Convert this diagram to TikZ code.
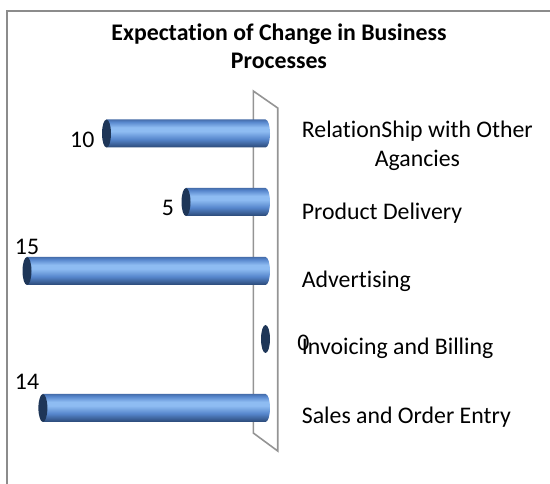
\documentclass[tikz,border=0pt]{standalone}
\usepackage{fontspec}
\setmainfont[Ligatures={NoCommon,NoRare},Contextuals=NoAlternate]{Carlito}
\usetikzlibrary{%
  positioning,%
  calc%
}
\definecolor{bartop}{RGB}{70,110,172}
\definecolor{barbody}{RGB}{86,134,204}
\definecolor{barlight}{RGB}{142,188,242}
\definecolor{bardark}{RGB}{42,72,118}
\definecolor{capdark}{RGB}{30,54,88}
\pgfdeclareverticalshading{barshade}{100bp}{color(0bp)=(bardark); color(25bp)=(bardark); color(40bp)=(barbody); color(54bp)=(barlight); color(61bp)=(barlight); color(71bp)=(barbody); color(75bp)=(bartop); color(100bp)=(bartop)}

\begin{document}
\begin{tikzpicture}[
  x=1pt, y=-1pt,
  font=\fontsize{23.8}{28.5}\selectfont,
  frame/.style={draw=black!45, line width=2pt},
  wall/.style={draw=black!42, line width=1.6pt},
  bar/.style={shading=barshade},
  barend/.style={fill=capdark},
  val/.style={inner sep=0pt},
  cat/.style={anchor=west, inner sep=0pt, align=center}]

\useasboundingbox (0,0) rectangle (550,484);
\draw[frame] (550,11) -- (6.7,11) -- (6.7,484);

\node[font=\fontsize{23.8}{28}\selectfont\bfseries, align=center] (title) at (279,46) {Expectation of Change in Business\\Processes};

\draw[wall] (253.3,433) -- (253.3,91) -- (277.7,108) -- (277.7,451) -- cycle;

\foreach \v/\y/\n/\lx/\ly in {10/133.5/rel/82.3/140, 5/202/del/168/208, 15/271/adv/27/247, 0/339/inv/303.5/343, 14/408/sal/27/381.7} {
  \pgfmathsetmacro{\xl}{265.5-15.9*\v}
  \ifnum\v>0
    \shade[bar] (\xl,\y-14) -- (265.5,\y-14) arc[start angle=90, end angle=-90, x radius=4.5pt, y radius=14pt] -- (\xl,\y+14) -- cycle;
  \fi
  \fill[barend] (\xl,\y) ellipse[x radius=4.5pt, y radius=14pt];
  \node[val] (v\n) at (\lx,\ly) {\v};
}

\node[cat] (crel) at (301.7,146) {RelationShip with Other\\Agancies};
\node[cat] (cdel) at (301.7,213) {Product Delivery};
\node[cat] (cadv) at (301.7,281.7) {Advertising};
\node[cat] (cinv) at (301.7,348) {Invoicing and Billing};
\node[cat] (csal) at (301.7,416.7) {Sales and Order Entry};

\end{tikzpicture}
\end{document}
